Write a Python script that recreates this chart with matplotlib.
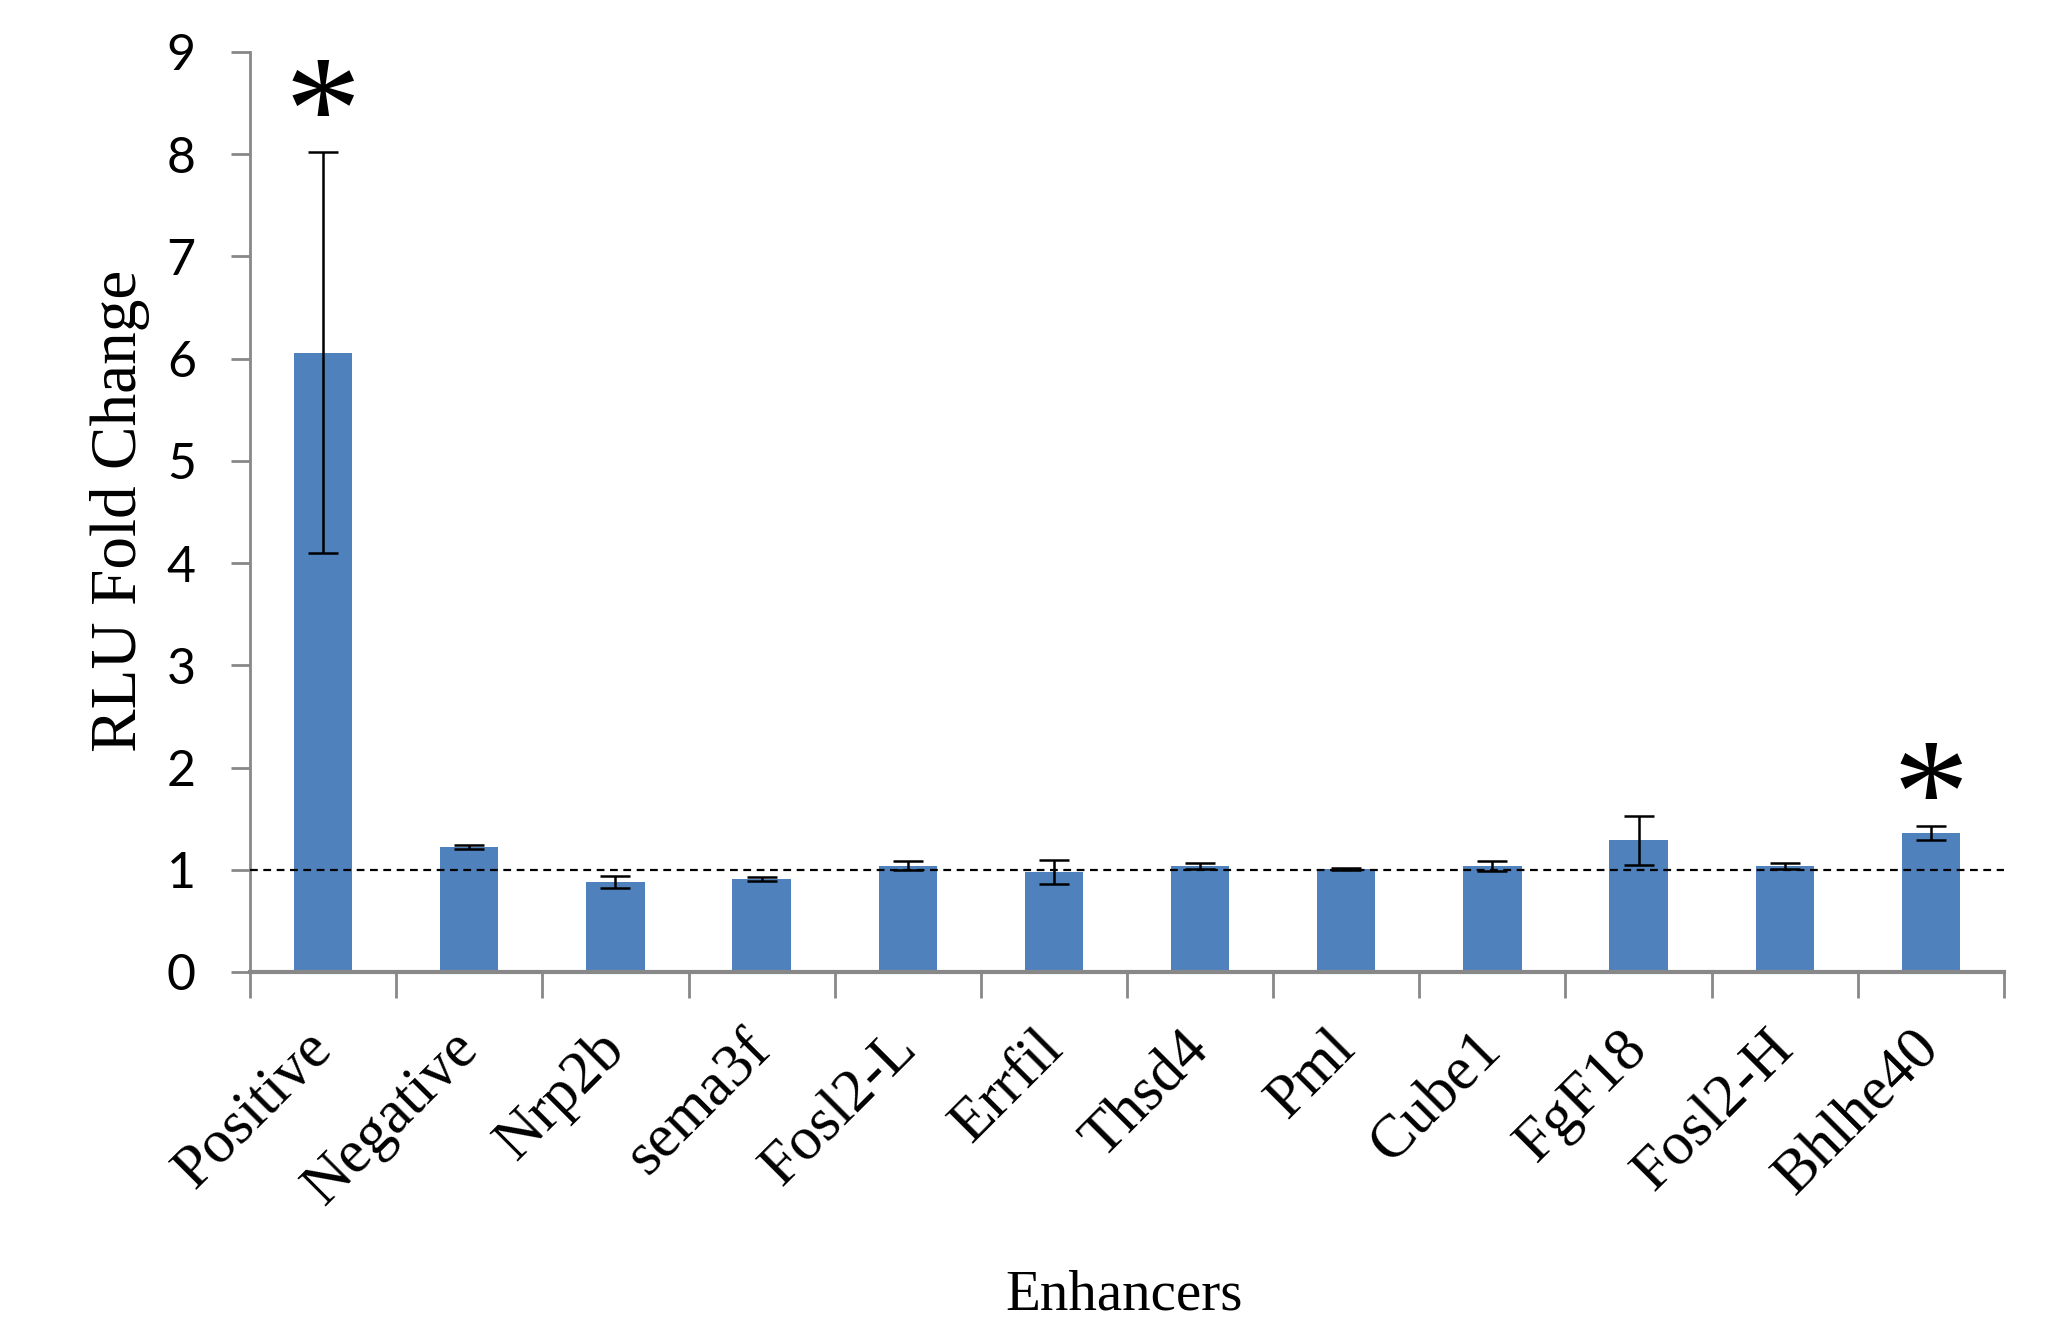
import numpy as np
import matplotlib
matplotlib.use("Agg")
import matplotlib.pyplot as plt
from matplotlib.transforms import ScaledTranslation

enhancers = ["Positive", "Negative", "Nrp2b", "sema3f", "Fosl2-L", "Errfil",
             "Thsd4", "Pml", "Cube1", "FgF18", "Fosl2-H", "Bhlhe40"]
fold_change = [6.06, 1.22, 0.88, 0.91, 1.04, 0.98, 1.04, 1.01, 1.04, 1.29, 1.04, 1.36]
fold_error = [1.96, 0.02, 0.06, 0.02, 0.045, 0.12, 0.03, 0.01, 0.05, 0.24, 0.03, 0.065]
significant = ["Positive", "Bhlhe40"]
star_height = [8.62, 1.94]

BAR_COLOR = "#4F81BD"
AXIS_COLOR = "#888888"
SERIF = "Liberation Serif"

fig = plt.figure(figsize=(20.45, 13.31), dpi=100)
ax = fig.add_axes([250 / 2045, 1 - 972 / 1331, (2004 - 250) / 2045, (972 - 52) / 1331])

x = np.arange(len(enhancers))
ax.bar(x, fold_change, width=0.4, color=BAR_COLOR, zorder=2)
ax.errorbar(x, fold_change, yerr=fold_error, fmt="none", ecolor="black",
            elinewidth=1.8, capsize=10.5, capthick=1.8, zorder=4)

# baseline reference at fold change of 1
ax.axhline(1, color="black", lw=1.6, linestyle=(0, (3.5, 2.5)), zorder=3)

# the "*" glyph sits high in its box, nudge it down so its middle is at h
star_shift = ScaledTranslation(0, -0.33, fig.dpi_scale_trans)
for name, h in zip(significant, star_height):
    ax.text(enhancers.index(name), h, "*", fontsize=110, family=SERIF,
            ha="center", va="center", zorder=5,
            transform=ax.transData + star_shift)

ax.set_xlim(-0.5, len(enhancers) - 0.5)
ax.set_ylim(0, 9)
ax.set_yticks(range(0, 10))
ax.set_yticklabels([str(v) for v in range(0, 10)], family="Lato", fontsize=36)

# category labels at bar centers, tick marks on the boundaries
ax.set_xticks(x)
ax.set_xticklabels(enhancers, rotation=45, ha="right", va="top",
                   family=SERIF, fontsize=44)
ax.set_xticks(np.arange(-0.5, len(enhancers)), minor=True)
ax.tick_params(axis="x", which="major", length=0, pad=35)
ax.tick_params(axis="x", which="minor", length=19, width=2, color=AXIS_COLOR,
               direction="out")
ax.tick_params(axis="y", length=14, width=2, color=AXIS_COLOR, pad=25)
shift = ScaledTranslation(0.2, 0, fig.dpi_scale_trans)
for lbl in ax.get_xticklabels():
    lbl.set_transform(lbl.get_transform() + shift)

for side in ["top", "right"]:
    ax.spines[side].set_visible(False)
for side in ["left", "bottom"]:
    ax.spines[side].set_color(AXIS_COLOR)
    ax.spines[side].set_linewidth(2)
ax.spines["bottom"].set_linewidth(3)

fig.text(120 / 2045, 1 - 511 / 1331, "RLU Fold Change", rotation=90,
         ha="center", va="center", family=SERIF, fontsize=47)
fig.text(1124 / 2045, 1 - 1295 / 1331, "Enhancers", ha="center", va="center",
         family=SERIF, fontsize=41)

fig.savefig("out.png", dpi=100)
